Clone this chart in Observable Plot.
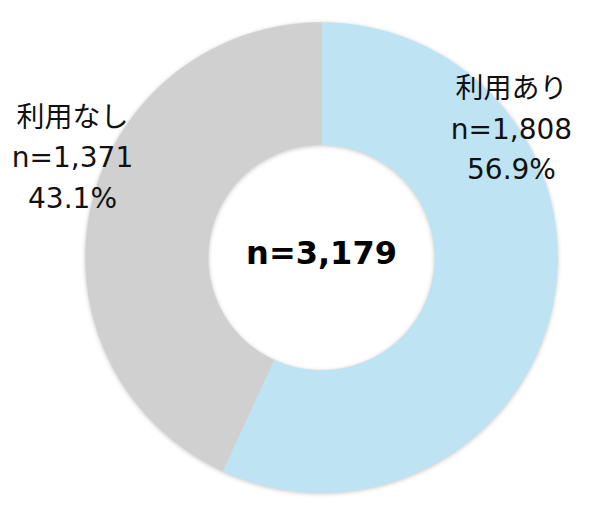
<!DOCTYPE html>
<html>
<head>
<meta charset="utf-8">
<script src="https://cdn.jsdelivr.net/npm/d3@7"></script>
<script src="https://cdn.jsdelivr.net/npm/@observablehq/plot@0.6"></script>
<style>
  html, body { margin: 0; padding: 0; background: #fff; }
  #chart svg g[aria-label="line"] { filter: drop-shadow(0px 1px 2px rgba(0,0,0,0.22)); }
</style>
</head>
<body>
<div id="chart"></div>
<script>
// Data
const categories = ["利用あり", "利用なし"];
const counts = [1808, 1371];
const colors = ["#bee3f3", "#d0d0d0"];

const total = d3.sum(counts);
const data = categories.map((c, i) => ({ key: c, value: counts[i] }));

const pie = d3.pie().sort(null).value(d => d.value);
const arcs = pie(data);
const inner = 0.48, outer = 1;

// Build ring polygons (arc geometry sampled along the slice angles)
const pts = [];
for (const a of arcs) {
  const n = Math.max(2, Math.ceil((a.endAngle - a.startAngle) / 0.005));
  for (let i = 0; i <= n; i++) {
    const t = a.startAngle + (a.endAngle - a.startAngle) * i / n;
    pts.push({ key: a.data.key, x: outer * Math.sin(t), y: outer * Math.cos(t) });
  }
  for (let i = n; i >= 0; i--) {
    const t = a.startAngle + (a.endAngle - a.startAngle) * i / n;
    pts.push({ key: a.data.key, x: inner * Math.sin(t), y: inner * Math.cos(t) });
  }
}

const fmt = d3.format(",");
const labelPos = { "利用あり": [0.805, 0.56], "利用なし": [-1.055, 0.44] };
const labels = data.map(d => ({
  x: labelPos[d.key][0],
  y: labelPos[d.key][1],
  text: `${d.key}\nn=${fmt(d.value)}\n${(d.value / total * 100).toFixed(1)}%`
}));

const font = '"DejaVu Sans", "Noto Sans CJK JP", sans-serif';

const chart = Plot.plot({
  width: 600,
  height: 517,
  marginLeft: 85,
  marginRight: 43,
  marginTop: 22,
  marginBottom: 25,
  x: { domain: [-1, 1], axis: null },
  y: { domain: [-1, 1], axis: null },
  color: { domain: categories, range: colors },
  style: { fontFamily: font, background: "#fff", overflow: "visible" },
  marks: [
    Plot.line(pts, { x: "x", y: "y", z: "key", fill: "key", stroke: "key", strokeWidth: 0.5, curve: "linear" }),
    Plot.text(labels, { x: "x", y: "y", text: "text", fontSize: 28, lineHeight: 1.45, fill: "#111", textAnchor: "middle", lineAnchor: "middle", clip: false }),
    Plot.text([`n=${fmt(total)}`], { x: () => 0, y: () => 0.015, text: d => d, fontSize: 32, fontWeight: "bold", fill: "#000", textAnchor: "middle", lineAnchor: "middle" })
  ]
});
document.getElementById("chart").appendChild(chart);
</script>
</body>
</html>
